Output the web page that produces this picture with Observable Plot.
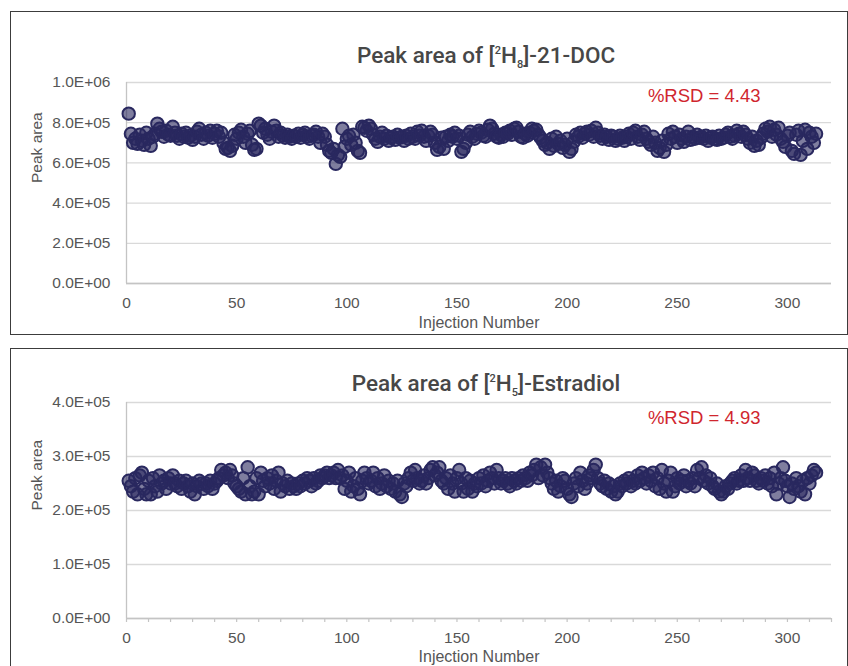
<!DOCTYPE html>
<html>
<head>
<meta charset="utf-8">
<script src="https://cdn.jsdelivr.net/npm/d3@7"></script>
<script src="https://cdn.jsdelivr.net/npm/@observablehq/plot@0.6"></script>
<style>
  body { margin: 0; background: #fff; font-family: "Liberation Sans", Arial, sans-serif; }
  .panel { position: absolute; left: 10px; width: 838px; border: 1px solid #3c3c3c; box-sizing: border-box; background: #fff; }
  #p1 { top: 11px; height: 324px; }
  #p2 { top: 348px; height: 330px; }
  .panel svg { position: absolute; left: 0; top: 0; }
  .title { position: absolute; transform: translateX(-50%); font-family: Roboto, "Liberation Sans", Arial, sans-serif; font-size: 22.5px; line-height: 22px; font-weight: 500; color: #474747; white-space: nowrap; z-index: 2; }
  .title .sup { font-size: 11px; position: relative; top: -9px; }
  .title .sub { font-size: 11px; position: relative; top: 5px; }
</style>
</head>
<body>
<div id="p1" class="panel"><div class="title" style="left:475px;top:32px">Peak area of [<span class="sup">2</span>H<span class="sub">8</span>]-21-DOC</div></div>
<div id="p2" class="panel"><div class="title" style="left:475px;top:23px">Peak area of [<span class="sup">2</span>H<span class="sub">5</span>]-Estradiol</div></div>
<script>
// Peak area of [2H8]-21-DOC, injections 1..313
const docPeakArea = [
8.45e5,7.45e5,7.0e5,7.2e5,6.95e5,7.4e5,7.1e5,6.9e5,7.5e5,7.2e5,
6.85e5,7.3e5,7.45e5,7.95e5,7.7e5,7.55e5,7.3e5,7.6e5,7.4e5,7.35e5,
7.8e5,7.5e5,7.35e5,7.2e5,7.45e5,7.3e5,7.5e5,7.25e5,7.35e5,7.15e5,
7.3e5,7.55e5,7.7e5,7.4e5,7.2e5,7.5e5,7.35e5,7.6e5,7.25e5,7.45e5,
7.6e5,7.3e5,7.5e5,7.0e5,6.7e5,6.75e5,6.6e5,6.85e5,7.4e5,7.2e5,
7.5e5,7.65e5,7.3e5,7.0e5,7.45e5,7.6e5,6.9e5,6.65e5,6.7e5,7.95e5,
7.85e5,7.5e5,7.7e5,7.4e5,7.2e5,7.55e5,7.85e5,7.6e5,7.3e5,7.5e5,
7.35e5,7.25e5,7.4e5,7.3e5,7.2e5,7.35e5,7.3e5,7.45e5,7.25e5,7.4e5,
7.5e5,7.3e5,7.2e5,7.35e5,7.4e5,7.55e5,7.3e5,7.0e5,7.45e5,7.3e5,
6.9e5,6.6e5,6.5e5,6.7e5,5.95e5,6.4e5,6.3e5,7.7e5,6.8e5,7.2e5,
7.35e5,6.9e5,7.4e5,7.0e5,6.6e5,6.5e5,7.8e5,7.75e5,7.6e5,7.85e5,
7.7e5,7.4e5,7.2e5,7.05e5,7.3e5,7.5e5,7.2e5,7.35e5,7.1e5,7.25e5,
7.3e5,7.15e5,7.4e5,7.25e5,7.3e5,7.1e5,7.35e5,7.2e5,7.45e5,7.3e5,
7.2e5,7.55e5,7.35e5,7.6e5,7.3e5,7.1e5,7.35e5,7.55e5,7.4e5,7.0e5,
6.65e5,6.8e5,7.25e5,6.7e5,7.3e5,7.1e5,7.4e5,7.3e5,7.5e5,7.2e5,
7.35e5,6.55e5,6.7e5,7.0e5,7.4e5,7.55e5,7.3e5,7.2e5,7.45e5,7.6e5,
7.5e5,7.35e5,7.3e5,7.65e5,7.85e5,7.7e5,7.45e5,7.3e5,7.25e5,7.4e5,
7.3e5,7.5e5,7.45e5,7.6e5,7.4e5,7.7e5,7.75e5,7.55e5,7.3e5,7.25e5,
7.45e5,7.35e5,7.5e5,7.7e5,7.6e5,7.65e5,7.4e5,7.25e5,7.1e5,6.9e5,
7.0e5,6.7e5,7.2e5,6.85e5,7.3e5,6.95e5,7.1e5,6.75e5,6.9e5,7.2e5,
6.55e5,6.7e5,7.05e5,7.4e5,7.3e5,7.5e5,7.25e5,7.45e5,7.55e5,7.4e5,
7.6e5,7.3e5,7.75e5,7.5e5,7.35e5,7.2e5,7.4e5,7.3e5,7.15e5,7.35e5,
7.3e5,7.1e5,7.2e5,7.35e5,7.25e5,7.1e5,7.3e5,7.45e5,7.2e5,7.5e5,
7.6e5,7.3e5,7.15e5,7.4e5,7.55e5,7.2e5,7.05e5,6.9e5,7.3e5,7.0e5,
6.6e5,6.75e5,7.1e5,6.55e5,6.9e5,7.45e5,7.2e5,7.55e5,7.3e5,7.0e5,
7.4e5,7.2e5,7.05e5,7.3e5,7.55e5,7.15e5,7.3e5,7.2e5,7.4e5,7.25e5,
7.3e5,7.2e5,7.35e5,7.1e5,7.25e5,7.3e5,7.2e5,7.15e5,7.35e5,7.2e5,
7.25e5,7.4e5,7.5e5,7.3e5,7.2e5,7.35e5,7.6e5,7.45e5,7.3e5,7.55e5,
7.4e5,7.2e5,7.0e5,7.3e5,6.85e5,7.1e5,6.9e5,7.25e5,7.45e5,7.7e5,
7.55e5,7.8e5,7.3e5,7.65e5,7.4e5,7.75e5,7.2e5,7.05e5,6.8e5,7.35e5,
7.5e5,6.6e5,6.45e5,7.4e5,7.6e5,6.4e5,7.1e5,7.65e5,6.7e5,7.5e5,
7.3e5,7.0e5,7.45e5
];

// Peak area of [2H5]-Estradiol, injections 1..313
const estradiolPeakArea = [
2.55e5,2.45e5,2.35e5,2.6e5,2.3e5,2.65e5,2.7e5,2.4e5,2.3e5,2.55e5,
2.3e5,2.6e5,2.45e5,2.35e5,2.65e5,2.5e5,2.55e5,2.4e5,2.6e5,2.5e5,
2.65e5,2.5e5,2.45e5,2.55e5,2.4e5,2.5e5,2.55e5,2.45e5,2.35e5,2.5e5,
2.3e5,2.45e5,2.55e5,2.5e5,2.4e5,2.5e5,2.45e5,2.55e5,2.4e5,2.5e5,
2.55e5,2.6e5,2.75e5,2.65e5,2.7e5,2.6e5,2.75e5,2.65e5,2.5e5,2.45e5,
2.4e5,2.35e5,2.6e5,2.3e5,2.8e5,2.45e5,2.3e5,2.35e5,2.6e5,2.3e5,
2.7e5,2.55e5,2.45e5,2.6e5,2.5e5,2.65e5,2.4e5,2.55e5,2.7e5,2.35e5,
2.5e5,2.45e5,2.55e5,2.4e5,2.5e5,2.45e5,2.4e5,2.5e5,2.45e5,2.55e5,
2.5e5,2.6e5,2.55e5,2.45e5,2.6e5,2.5e5,2.55e5,2.65e5,2.6e5,2.65e5,
2.7e5,2.6e5,2.65e5,2.7e5,2.6e5,2.75e5,2.6e5,2.65e5,2.4e5,2.55e5,
2.7e5,2.35e5,2.45e5,2.6e5,2.4e5,2.3e5,2.55e5,2.7e5,2.6e5,2.5e5,
2.55e5,2.7e5,2.45e5,2.6e5,2.4e5,2.5e5,2.65e5,2.45e5,2.55e5,2.4e5,
2.5e5,2.35e5,2.55e5,2.3e5,2.25e5,2.5e5,2.45e5,2.6e5,2.7e5,2.55e5,
2.75e5,2.6e5,2.5e5,2.55e5,2.65e5,2.5e5,2.6e5,2.75e5,2.8e5,2.65e5,
2.7e5,2.8e5,2.55e5,2.5e5,2.6e5,2.4e5,2.65e5,2.5e5,2.35e5,2.6e5,
2.75e5,2.5e5,2.35e5,2.6e5,2.4e5,2.55e5,2.35e5,2.5e5,2.45e5,2.6e5,
2.5e5,2.65e5,2.45e5,2.55e5,2.7e5,2.6e5,2.5e5,2.75e5,2.6e5,2.5e5,
2.55e5,2.6e5,2.5e5,2.45e5,2.6e5,2.55e5,2.5e5,2.6e5,2.55e5,2.65e5,
2.6e5,2.55e5,2.7e5,2.65e5,2.75e5,2.85e5,2.6e5,2.8e5,2.65e5,2.85e5,
2.7e5,2.6e5,2.5e5,2.4e5,2.55e5,2.35e5,2.45e5,2.6e5,2.55e5,2.4e5,
2.3e5,2.25e5,2.5e5,2.6e5,2.45e5,2.7e5,2.55e5,2.4e5,2.5e5,2.65e5,
2.6e5,2.75e5,2.85e5,2.6e5,2.5e5,2.45e5,2.55e5,2.4e5,2.5e5,2.35e5,
2.45e5,2.3e5,2.35e5,2.5e5,2.45e5,2.55e5,2.5e5,2.6e5,2.45e5,2.55e5,
2.5e5,2.65e5,2.55e5,2.7e5,2.6e5,2.5e5,2.65e5,2.55e5,2.7e5,2.45e5,
2.6e5,2.4e5,2.75e5,2.5e5,2.35e5,2.55e5,2.7e5,2.35e5,2.45e5,2.6e5,
2.5e5,2.55e5,2.65e5,2.45e5,2.55e5,2.5e5,2.6e5,2.45e5,2.75e5,2.6e5,
2.8e5,2.55e5,2.65e5,2.5e5,2.6e5,2.45e5,2.4e5,2.5e5,2.35e5,2.3e5,
2.35e5,2.45e5,2.4e5,2.5e5,2.55e5,2.6e5,2.5e5,2.55e5,2.65e5,2.55e5,
2.75e5,2.6e5,2.55e5,2.7e5,2.65e5,2.55e5,2.5e5,2.6e5,2.55e5,2.65e5,
2.5e5,2.6e5,2.45e5,2.7e5,2.3e5,2.5e5,2.6e5,2.8e5,2.55e5,2.45e5,
2.25e5,2.5e5,2.4e5,2.6e5,2.45e5,2.35e5,2.55e5,2.3e5,2.6e5,2.5e5,
2.65e5,2.75e5,2.7e5
];

const xTicks = [0, 50, 100, 150, 200, 250, 300];
const xMinorTicks = [0,10,20,30,40,50,60,70,80,90,100,110,120,130,140,150,160,170,180,190,200,210,220,230,240,250,260,270,280,290,300,310,320];
const yTicksDOC = [0, 2e5, 4e5, 6e5, 8e5, 1e6];
const yLabelsDOC = ["0.0E+00", "2.0E+05", "4.0E+05", "6.0E+05", "8.0E+05", "1.0E+06"];
const yTicksE2 = [0, 1e5, 2e5, 3e5, 4e5];
const yLabelsE2 = ["0.0E+00", "1.0E+05", "2.0E+05", "3.0E+05", "4.0E+05"];
const rsdDOC = "%RSD = 4.43";
const rsdE2 = "%RSD = 4.93";
const xTitle = "Injection Number";
const yTitle = "Peak area";

const navy = "#29285f";
const labelColor = "#565656";
const font = "'Liberation Sans', Arial, sans-serif";

function makeChart({values, yTicks, yLabels, rsd, height, marginTop, marginBottom, rsdDy, xTitleDy, minorTicks}) {
  const marks = [
    Plot.gridY(yTicks, {stroke: "#d9d9d9", strokeOpacity: 1, strokeWidth: 1.3}),
    Plot.ruleX([0], {stroke: "#c4c4c4", strokeWidth: 1.3}),
    Plot.ruleY([0], {stroke: "#c4c4c4", strokeWidth: 1.3})
  ];
  if (minorTicks) marks.push(Plot.axisX(minorTicks, {tickSize: 4, tickFormat: () => "", stroke: "#c4c4c4", strokeOpacity: 1, strokeWidth: 1.2, label: null}));
  marks.push(
    // y tick labels
    Plot.text(yTicks, {y: d => d, text: d => yLabels[yTicks.indexOf(d)], frameAnchor: "left", textAnchor: "end", lineAnchor: "middle", dx: -16, fontSize: 15.5, fill: labelColor}),
    // x tick labels
    Plot.text(xTicks, {x: d => d, text: d => String(d), frameAnchor: "bottom", lineAnchor: "middle", dy: 19.5, fontSize: 15.5, fill: labelColor}),
    Plot.dot(values, {x: (d, i) => i + 1, y: d => d, r: 6.2, fill: navy, fillOpacity: 0.6, stroke: navy, strokeWidth: 2}),
    Plot.text([rsd], {frameAnchor: "top-right", lineAnchor: "middle", dx: -71, dy: rsdDy, textAnchor: "end", fontSize: 18.5, fill: "#d0262e"}),
    Plot.text([xTitle], {frameAnchor: "bottom", lineAnchor: "middle", dy: xTitleDy, fontSize: 16, fill: labelColor}),
    Plot.text([yTitle], {frameAnchor: "left", lineAnchor: "middle", dx: -89, rotate: -90, fontSize: 15.5, fill: labelColor})
  );
  return Plot.plot({
    width: 836,
    height,
    marginLeft: 115,
    marginRight: 16,
    marginTop,
    marginBottom,
    style: {fontFamily: font, fontSize: "15.5px", color: labelColor, background: "transparent", overflow: "visible"},
    x: {domain: [0, 320], axis: null},
    y: {domain: [yTicks[0], yTicks[yTicks.length - 1]], axis: null},
    marks
  });
}

const c1 = makeChart({values: docPeakArea, yTicks: yTicksDOC, yLabels: yLabelsDOC, rsd: rsdDOC, height: 321, marginTop: 70, marginBottom: 50, rsdDy: 14, xTitleDy: 39});
document.getElementById("p1").appendChild(c1);

const c2 = makeChart({values: estradiolPeakArea, yTicks: yTicksE2, yLabels: yLabelsE2, rsd: rsdE2, height: 317, marginTop: 53, marginBottom: 48, rsdDy: 16, xTitleDy: 38, minorTicks: xMinorTicks});
document.getElementById("p2").appendChild(c2);
</script>
</body>
</html>
